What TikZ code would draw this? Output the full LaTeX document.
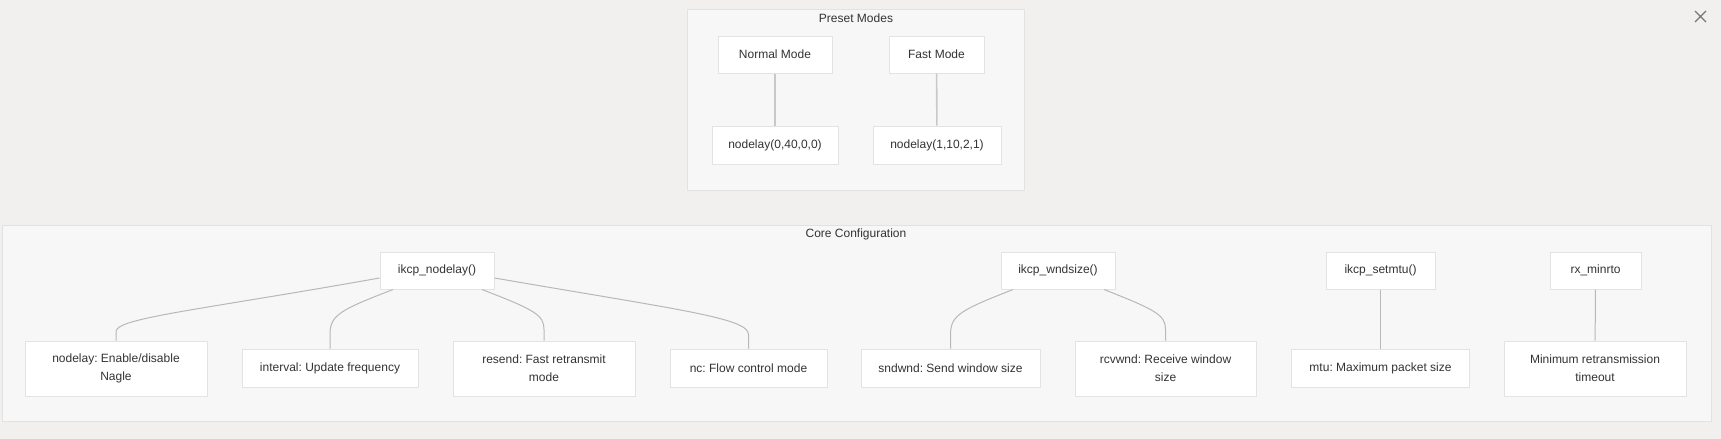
\documentclass[tikz,border=0pt]{standalone}
\usepackage{fontspec}
\setmainfont{Liberation Sans}
\usetikzlibrary{calc}
\frenchspacing
\definecolor{bg}{HTML}{F1F0EE}
\definecolor{clfill}{HTML}{F7F7F7}
\definecolor{clborder}{HTML}{E2E2E2}
\definecolor{nborder}{HTML}{E3E3E3}
\definecolor{edgecol}{HTML}{B8B8B8}
\definecolor{edgelight}{HTML}{C8C8C8}
\definecolor{txt}{HTML}{333333}
\definecolor{xcol}{HTML}{777777}
\begin{document}
\begin{tikzpicture}[x=0.75pt,y=-0.75pt,
  wh/.style 2 args={minimum width=#1*0.75pt, minimum height=#2*0.75pt},
  box/.style={draw=nborder, fill=white, line width=0.75pt, inner sep=0pt, align=center,
    font=\fontsize{9}{13.5}\selectfont\frenchspacing, text=txt},
  cluster/.style={draw=clborder, fill=clfill, line width=0.75pt, inner sep=0pt},
  title/.style={font=\fontsize{9}{11}\selectfont, text=txt, inner sep=0pt},
  link/.style={draw=edgecol, line width=0.75pt},
  plink/.style={draw=edgelight, line width=1.2pt}]
\useasboundingbox[fill=bg] (0,0) rectangle (1721,439);

% clusters
\node[cluster, wh={337}{181}] (preset) at (855.5,99.5) {};
\node[title] (presettitle) at (856,18) {Preset Modes};
\node[cluster, wh={1709}{196}] (core) at (856.5,323) {};
\node[title] (coretitle) at (856,234) {Core Configuration};

% preset nodes
\node[box, wh={114}{37}] (normal) at (775,54.5) {Normal Mode};
\node[box, wh={95}{37}] (fast) at (936.5,54.5) {Fast Mode};
\node[box, wh={126}{38}] (nd0) at (775,145) {nodelay(0,40,0,0)};
\node[box, wh={128}{38}] (nd1) at (937,145) {nodelay(1,10,2,1)};

% core nodes
\node[box, wh={114}{37}] (ikcpnd) at (437,270.5) {ikcp\_nodelay()};
\node[box, wh={182}{55}] (ndl) at (116,368.5) {nodelay: Enable/disable\\Nagle};
\node[box, wh={176}{38}] (intv) at (330,368) {interval: Update frequency};
\node[box, wh={182}{55}] (resend) at (544,368.5) {resend: Fast retransmit\\mode};
\node[box, wh={157}{38}] (nc) at (748.5,368) {nc: Flow control mode};
\node[box, wh={179}{38}] (snd) at (950.5,368) {sndwnd: Send window size};
\node[box, wh={114}{37}] (wnd) at (1058,270.5) {ikcp\_wndsize()};
\node[box, wh={181}{55}] (rcv) at (1165.5,368.5) {rcvwnd: Receive window\\size};
\node[box, wh={109}{37}] (setmtu) at (1380.5,270.5) {ikcp\_setmtu()};
\node[box, wh={178}{38}] (mtu) at (1380.5,368) {mtu: Maximum packet size};
\node[box, wh={91}{37}] (minrto) at (1595.5,270.5) {rx\_minrto};
\node[box, wh={182}{55}] (minimum) at (1595,368.5) {Minimum retransmission\\timeout};

% preset edges
\draw[plink] (normal) -- (nd0);
\draw[plink] (fast) -- (nd1);

% core edges
\draw[link] ($(ikcpnd.west)+(0,7.5)$) .. controls (200,310) and (116,318) .. ($(ndl.north)+(0,-9)$) -- (ndl.north);
\draw[link] ($(ikcpnd.south)+(-44,0)$) .. controls (340,310) and (330,315) .. ($(intv.north)+(0,-14)$) -- (intv.north);
\draw[link] ($(ikcpnd.south)+(45,0)$) .. controls (535,310) and (544,315) .. ($(resend.north)+(0,-11)$) -- (resend.north);
\draw[link] ($(ikcpnd.east)+(0,7.5)$) .. controls (680,310) and (748.5,318) .. ($(nc.north)+(0,-14)$) -- (nc.north);
\draw[link] ($(wnd.south)+(-45,0)$) .. controls (961,310) and (950.5,315) .. ($(snd.north)+(0,-14)$) -- (snd.north);
\draw[link] ($(wnd.south)+(46,0)$) .. controls (1156,310) and (1165.5,315) .. ($(rcv.north)+(0,-11)$) -- (rcv.north);
\draw[link] (setmtu) -- (mtu);
\draw[link] (minrto) -- (minimum);

% close icon
\draw[xcol, line width=0.9pt] (1695,11) -- (1706,22) (1695,22) -- (1706,11);
\end{tikzpicture}
\end{document}
